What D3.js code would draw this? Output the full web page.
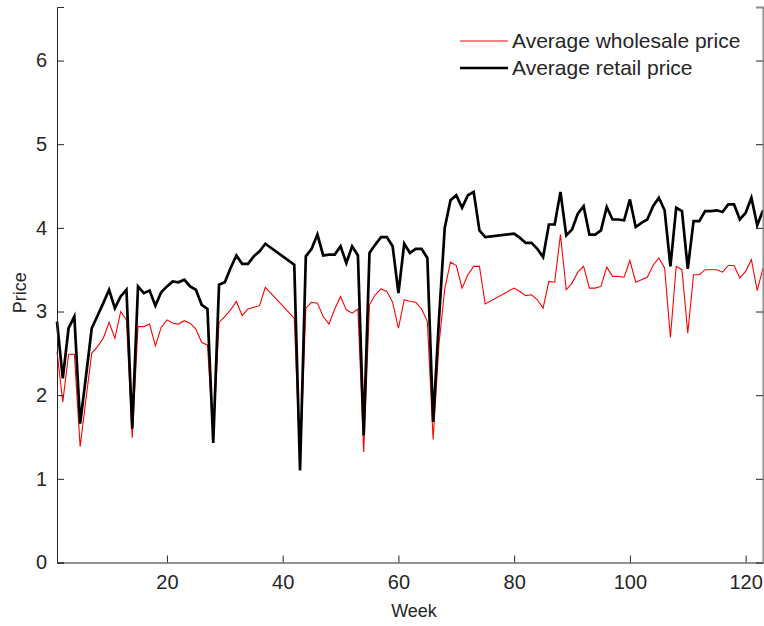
<!DOCTYPE html>
<html><head><meta charset="utf-8">
<script src="https://cdn.jsdelivr.net/npm/d3@7"></script>
<style>body{margin:0;background:#fff}svg{display:block}text{font-family:"Liberation Sans",Arial,Helvetica,sans-serif;fill:#262626}</style>
</head><body>
<svg id="c" width="764" height="626"></svg>
<script>
const weeks = [1,2,3,4,5,6,7,8,9,10,11,12,13,14,15,16,17,18,19,20,21,22,23,24,25,26,27,28,29,30,31,32,33,34,35,36,37,
  42,43,44,45,46,47,48,49,50,51,52,53,54,55,56,57,58,59,60,61,62,63,64,65,66,67,68,69,70,71,72,73,74,75,
  80,81,82,83,84,85,86,87,88,89,90,91,92,93,94,95,96,97,98,99,100,101,102,103,104,105,106,107,108,109,110,111,112,113,114,115,116,117,118,119,120,121,122,123];
const wholesale = [2.52,1.92,2.49,2.49,1.385,1.95,2.50,2.58,2.68,2.87,2.68,3.00,2.90,1.49,2.82,2.82,2.85,2.59,2.81,2.90,2.86,2.85,2.89,2.86,2.79,2.63,2.60,1.50,2.87,2.94,3.02,3.12,2.95,3.03,3.05,3.07,3.29,
  2.92,1.15,3.04,3.11,3.10,2.94,2.85,3.03,3.18,3.02,2.98,3.03,1.32,3.08,3.20,3.27,3.24,3.11,2.80,3.14,3.12,3.11,3.03,2.88,1.47,2.60,3.27,3.59,3.55,3.28,3.44,3.54,3.54,3.09,
  3.28,3.24,3.19,3.20,3.14,3.04,3.36,3.35,3.92,3.26,3.34,3.47,3.54,3.28,3.28,3.30,3.53,3.42,3.42,3.41,3.61,3.35,3.38,3.41,3.55,3.64,3.52,2.69,3.54,3.50,2.74,3.44,3.44,3.50,3.50,3.50,3.47,3.55,3.55,3.40,3.48,3.62,3.25,3.52];
const retail = [2.88,2.20,2.80,2.94,1.66,2.22,2.80,2.95,3.10,3.26,3.04,3.18,3.26,1.60,3.30,3.22,3.25,3.07,3.23,3.30,3.36,3.35,3.38,3.30,3.26,3.08,3.03,1.43,3.32,3.35,3.52,3.67,3.57,3.57,3.66,3.72,3.81,
  3.56,1.10,3.66,3.75,3.92,3.67,3.68,3.68,3.78,3.58,3.78,3.67,1.52,3.70,3.80,3.89,3.89,3.78,3.22,3.81,3.70,3.75,3.75,3.64,1.68,2.90,4.00,4.33,4.39,4.24,4.39,4.43,3.97,3.89,
  3.93,3.88,3.82,3.82,3.75,3.65,4.04,4.04,4.43,3.91,3.98,4.17,4.26,3.92,3.92,3.97,4.25,4.10,4.10,4.09,4.34,4.01,4.06,4.10,4.26,4.36,4.21,3.54,4.24,4.20,3.51,4.08,4.08,4.20,4.20,4.21,4.19,4.28,4.28,4.10,4.18,4.36,4.03,4.21];
const xTicks = [20,40,60,80,100,120];
const yTicks = [0,1,2,3,4,5,6];
const seriesNames = ["Average wholesale price","Average retail price"];
const seriesColors = ["#ff0000","#000000"];

const svg = d3.select("#c");
const L = 57, R = 763, T = 7, B = 562.5;
const x = d3.scaleLinear().domain([1,123]).range([L,R]);
const y = d3.scaleLinear().domain([0,6.64]).range([B,T]);
const axisColor = "#262626";

// lines
const mk = vals => d3.line().x((d,i)=>x(weeks[i])).y(d=>y(d))(vals);
svg.append("path").attr("d", mk(wholesale)).attr("fill","none").attr("stroke",seriesColors[0]).attr("stroke-width",1.1).attr("stroke-linejoin","miter");
svg.append("path").attr("d", mk(retail)).attr("fill","none").attr("stroke",seriesColors[1]).attr("stroke-width",2.7).attr("stroke-linejoin","miter");

// axes
const gx = svg.append("g").attr("transform",`translate(0,${B})`)
  .call(d3.axisBottom(x).tickValues(xTicks).tickSize(-7).tickPadding(12));
const gy = svg.append("g").attr("transform",`translate(${L},0)`)
  .call(d3.axisLeft(y).tickValues(yTicks).tickSize(-7).tickPadding(10).tickFormat(d3.format("d")));
const gr = svg.append("g").attr("transform",`translate(${R},0)`)
  .call(d3.axisRight(y).tickValues(yTicks).tickSize(-7).tickFormat(""));
[gx,gy].forEach(g=>{
  g.select(".domain").attr("stroke",axisColor).attr("stroke-width",1);
  g.selectAll(".tick line").attr("stroke",axisColor);
  g.selectAll(".tick text").attr("font-size",20).attr("fill",axisColor).style("font-family","'Liberation Sans',Arial,sans-serif");
});
gr.select(".domain").attr("stroke","#8c8c8c").attr("stroke-width",2);
gr.selectAll(".tick line").attr("stroke",axisColor);

// axis labels
svg.append("text").attr("x",414).attr("y",617).attr("text-anchor","middle").attr("font-size",18).text("Week");
svg.append("text").attr("transform",`translate(26,${(T+B)/2+8}) rotate(-90)`).attr("text-anchor","middle").attr("font-size",18).text("Price");

// legend
const lg = svg.append("g");
seriesNames.forEach((n,i)=>{
  const yy = 41 + i*27;
  lg.append("line").attr("x1",460).attr("x2",508).attr("y1",yy).attr("y2",yy)
    .attr("stroke",seriesColors[i]).attr("stroke-width",i?2.7:1.1);
  lg.append("text").attr("x",512).attr("y",yy+7).attr("font-size",21).text(n);
});
</script>
</body></html>
